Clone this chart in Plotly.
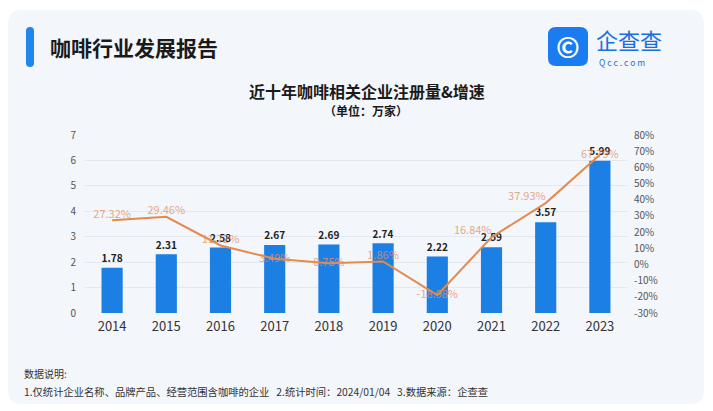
import plotly.graph_objects as go

years = ["2014", "2015", "2016", "2017", "2018", "2019", "2020", "2021", "2022", "2023"]
registrations = [1.78, 2.31, 2.58, 2.67, 2.69, 2.74, 2.22, 2.59, 3.57, 5.99]
growth = [27.32, 29.46, 11.72, 3.49, 0.75, 1.86, -18.98, 16.84, 37.93, 67.79]
left_ticks = [0, 1, 2, 3, 4, 5, 6, 7]
right_ticks = [-30, -20, -10, 0, 10, 20, 30, 40, 50, 60, 70, 80]

FONT = "Noto Sans CJK SC"
BLUE = "#1b7fe3"
ORANGE = "#e58a4c"

fig = go.Figure()
fig.add_trace(go.Bar(
    x=years, y=registrations, marker=dict(color=BLUE, line=dict(width=0)),
    text=[f"<b>{v:.2f}</b>" for v in registrations], textposition="outside",
    textfont=dict(size=11, color="#222", family=FONT), cliponaxis=False,
    yaxis="y", showlegend=False,
))
pos = ["top center", "top center", "top center", "middle center", "middle center",
       "top center", "middle center", "top left", "top left", "middle center"]
fig.add_trace(go.Scatter(
    x=years, y=growth, mode="lines+text", line=dict(color=ORANGE, width=2),
    text=[f"{v:.2f}%" for v in growth], textposition=pos,
    textfont=dict(size=11, color="rgba(225,145,100,0.8)", family=FONT),
    yaxis="y2", showlegend=False, cliponaxis=False,
))

W, H = 713, 411
ml, mr, mt, mb = 85, 86, 135, 98
pw, ph = W - ml - mr, H - mt - mb
def px(x):
    return (x - ml) / pw
def py(y):
    return (H - mb - y) / ph

def rrect(x0, y0, x1, y1, r):
    return (f"M {px(x0+r)} {py(y0)} L {px(x1-r)} {py(y0)} Q {px(x1)} {py(y0)} {px(x1)} {py(y0+r)} "
            f"L {px(x1)} {py(y1-r)} Q {px(x1)} {py(y1)} {px(x1-r)} {py(y1)} "
            f"L {px(x0+r)} {py(y1)} Q {px(x0)} {py(y1)} {px(x0)} {py(y1-r)} "
            f"L {px(x0)} {py(y0+r)} Q {px(x0)} {py(y0)} {px(x0+r)} {py(y0)} Z")

shapes = [
    dict(type="path", xref="paper", yref="paper", layer="below",
         path=rrect(8, 10, 704, 404, 14), fillcolor="#f3f6fb", line=dict(width=0)),
    dict(type="path", xref="paper", yref="paper", layer="below",
         path=rrect(26, 27, 34, 67, 4), fillcolor="#1f86f0", line=dict(width=0)),
    dict(type="path", xref="paper", yref="paper", layer="above",
         path=rrect(548, 27, 588, 66, 8), fillcolor="#1a7cf0", line=dict(width=0)),
]

annotations = [
    dict(text="<b>咖啡行业发展报告</b>", x=px(48), y=py(47), xref="paper", yref="paper",
         xanchor="left", yanchor="middle", showarrow=False,
         font=dict(size=21, color="#1a1a1a", family=FONT)),
    dict(text="<b>©</b>", x=px(568), y=py(46), xref="paper", yref="paper",
         xanchor="center", yanchor="middle", showarrow=False,
         font=dict(size=28, color="white", family=FONT)),
    dict(text="企查查", x=px(594), y=py(39), xref="paper", yref="paper",
         xanchor="left", yanchor="middle", showarrow=False,
         font=dict(size=22, color="#1a6fe0", family=FONT)),
    dict(text="Q c c . c o m", x=px(597), y=py(62), xref="paper", yref="paper",
         xanchor="left", yanchor="middle", showarrow=False,
         font=dict(size=8.5, color="#1a6fe0", family=FONT)),
    dict(text="<b>近十年咖啡相关企业注册量&增速</b>", x=px(367), y=py(91), xref="paper", yref="paper",
         xanchor="center", yanchor="middle", showarrow=False,
         font=dict(size=16, color="#1a1a1a", family=FONT)),
    dict(text="<b>（单位：万家）</b>", x=px(366), y=py(110), xref="paper", yref="paper",
         xanchor="center", yanchor="middle", showarrow=False,
         font=dict(size=12, color="#1a1a1a", family=FONT)),
    dict(text="数据说明:", x=px(22), y=py(373), xref="paper", yref="paper",
         xanchor="left", yanchor="middle", showarrow=False,
         font=dict(size=10, color="#333", family=FONT)),
    dict(text="1.仅统计企业名称、品牌产品、经营范围含咖啡的企业&nbsp;&nbsp;&nbsp;2.统计时间：2024/01/04&nbsp;&nbsp;&nbsp;3.数据来源：企查查",
         x=px(22), y=py(391), xref="paper", yref="paper",
         xanchor="left", yanchor="middle", showarrow=False,
         font=dict(size=10.3, color="#333", family=FONT)),
]

fig.update_layout(
    width=W, height=H,
    margin=dict(l=ml, r=mr, t=mt, b=mb, autoexpand=False),
    paper_bgcolor="#ffffff", plot_bgcolor="rgba(0,0,0,0)",
    bargap=0.61,
    font=dict(family=FONT),
    xaxis=dict(type="category", showgrid=False, showline=False, ticks="",
               tickfont=dict(size=13, color="#333"), ticklabelstandoff=4),
    yaxis=dict(range=[0, 7], tickvals=left_ticks, showgrid=True, gridcolor="#e3e7ee",
               gridwidth=1, zeroline=False, showline=False, ticks="",
               tickfont=dict(size=10, color="#555"), ticklabelstandoff=8),
    yaxis2=dict(range=[-30, 80], tickvals=right_ticks, ticktext=[f"{v}%" for v in right_ticks],
                overlaying="y", side="right", showgrid=False, zeroline=False, showline=False,
                ticks="", tickfont=dict(size=10, color="#555"), ticklabelstandoff=6),
    shapes=shapes, annotations=annotations,
)

fig.write_html("out.html", config={"displayModeBar": False},
               post_script="document.body.style.margin='0';document.body.style.overflow='hidden';")
